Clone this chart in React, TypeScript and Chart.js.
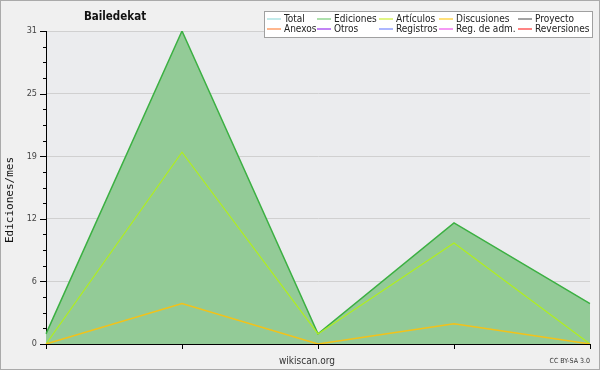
import React, { useEffect, useRef } from "react";
import { Chart, registerables } from "chart.js";

Chart.register(...registerables);

const periods = ["1", "2", "3", "4", "5"];
const ediciones = [1, 31, 1, 12, 4];
const articulos = [0, 19, 1, 10, 0];
const discusiones = [0, 4, 0, 2, 0];
const yMajorTicks = [0, 6.2, 12.4, 18.6, 24.8, 31];

const legendRow1 = ["Total", "Ediciones", "Artículos", "Discusiones", "Proyecto"];
const legendRow2 = ["Anexos", "Otros", "Registros", "Reg. de adm.", "Reversiones"];
const legendColors1 = ["#99dddd", "#77cc77", "#ccee33", "#ffcc22", "#666666"];
const legendColors2 = ["#ff8844", "#9933ee", "#7788ff", "#ee55ee", "#ff3333"];

const titleText = "Bailedekat";
const yTitle = "Ediciones/mes";
const xTitle = "wikiscan.org";
const licenseText = "CC BY-SA 3.0";

const COND = '"DejaVu Sans Condensed", "DejaVu Sans", sans-serif';

const decorPlugin = {
  id: "decor",
  beforeDraw(chart: any) {
    const { ctx, width, height, chartArea } = chart;
    ctx.save();
    ctx.fillStyle = "#f0f0f0";
    ctx.fillRect(0, 0, width, height);
    ctx.strokeStyle = "#aaaaaa";
    ctx.lineWidth = 1;
    ctx.strokeRect(0.5, 0.5, width - 1, height - 1);
    ctx.fillStyle = "#ebecee";
    ctx.fillRect(chartArea.left, chartArea.top, chartArea.right - chartArea.left, chartArea.bottom - chartArea.top);
    ctx.restore();
  },
  afterDraw(chart: any) {
    const { ctx, chartArea } = chart;
    const y = chart.scales.y;
    const x = chart.scales.x;
    ctx.save();
    // y ticks
    ctx.strokeStyle = "#000";
    ctx.lineWidth = 1;
    ctx.beginPath();
    for (let i = 0; i < yMajorTicks.length; i++) {
      const v = yMajorTicks[i];
      const py = Math.round(y.getPixelForValue(v)) + 0.5;
      ctx.moveTo(chartArea.left - 6, py);
      ctx.lineTo(chartArea.left, py);
      if (i < yMajorTicks.length - 1) {
        const step = (yMajorTicks[i + 1] - v) / 4;
        for (let k = 1; k < 4; k++) {
          const my = Math.round(y.getPixelForValue(v + step * k)) + 0.5;
          ctx.moveTo(chartArea.left - 3, my);
          ctx.lineTo(chartArea.left, my);
        }
      }
    }
    // x ticks
    for (let i = 0; i < periods.length; i++) {
      const px = Math.round(x.getPixelForValue(i)) + 0.5;
      ctx.moveTo(px, chartArea.bottom);
      ctx.lineTo(px, chartArea.bottom + 5);
    }
    ctx.stroke();

    // title
    ctx.fillStyle = "#111";
    ctx.font = `bold 11.5px ${COND}`;
    ctx.textAlign = "center";
    ctx.textBaseline = "middle";
    ctx.fillText(titleText, 115, 17);

    // x title
    ctx.fillStyle = "#333";
    ctx.font = `10px ${COND}`;
    ctx.fillText(xTitle, 307, 361);

    // license
    ctx.font = `7px ${COND}`;
    ctx.textAlign = "right";
    ctx.fillText(licenseText, 590, 361);

    // y title
    ctx.save();
    ctx.translate(10, 200);
    ctx.rotate(-Math.PI / 2);
    ctx.textAlign = "center";
    ctx.fillStyle = "#111";
    ctx.font = '11px "DejaVu Sans Mono", monospace';
    ctx.fillText(yTitle, 0, 0);
    ctx.restore();

    // legend
    ctx.fillStyle = "#ffffff";
    ctx.fillRect(264, 11, 329, 27);
    ctx.strokeStyle = "#a0a0a0";
    ctx.strokeRect(264.5, 11.5, 328, 26);
    const cols = [267, 317, 379, 439, 518];
    ctx.font = `10px ${COND}`;
    ctx.textAlign = "left";
    ctx.textBaseline = "middle";
    const rows = [
      { labels: legendRow1, colors: legendColors1, y: 19 },
      { labels: legendRow2, colors: legendColors2, y: 29 },
    ];
    for (const r of rows) {
      for (let i = 0; i < r.labels.length; i++) {
        const cx = cols[i];
        ctx.strokeStyle = r.colors[i];
        ctx.lineWidth = 1.2;
        ctx.beginPath();
        ctx.moveTo(cx, r.y);
        ctx.lineTo(cx + 14, r.y);
        ctx.stroke();
        ctx.fillStyle = "#222";
        ctx.fillText(r.labels[i], cx + 17, r.y + 0.5);
      }
    }
    ctx.restore();
  },
};

export default function App() {
  const ref = useRef<HTMLCanvasElement | null>(null);
  useEffect(() => {
    document.body.style.margin = "0";
    const canvas = ref.current;
    if (!canvas) return;
    const chart = new Chart(canvas, {
      type: "line",
      data: {
        labels: periods,
        datasets: [
          {
            label: "Discusiones",
            data: discusiones,
            borderColor: "#f2c21a",
            borderWidth: 1.5,
            pointRadius: 0,
            fill: false,
            tension: 0,
          },
          {
            label: "Artículos",
            data: articulos,
            borderColor: "#b0ee1e",
            borderWidth: 1.2,
            pointRadius: 0,
            fill: false,
            tension: 0,
          },
          {
            label: "Ediciones",
            data: ediciones,
            borderColor: "#3cb043",
            backgroundColor: "#93cb97",
            borderWidth: 1.5,
            pointRadius: 0,
            fill: "origin",
            tension: 0,
          },
        ],
      },
      options: {
        responsive: false,
        animation: false,
        devicePixelRatio: 1,
        layout: { padding: { top: 31, right: 10, bottom: 26, left: 0 } },
        plugins: {
          legend: { display: false },
          tooltip: { enabled: false },
          title: { display: false },
        },
        scales: {
          x: {
            type: "category",
            offset: false,
            grid: { display: false, drawTicks: false },
            border: { display: true, color: "#000", width: 1 },
            ticks: { display: false },
            afterFit(scale: any) {
              scale.height = 0;
            },
          },
          y: {
            min: 0,
            max: 31,
            afterBuildTicks(scale: any) {
              scale.ticks = yMajorTicks.map((v) => ({ value: v }));
            },
            afterFit(scale: any) {
              scale.width = 46;
            },
            grid: { color: "#d0d0d0", lineWidth: 1, drawTicks: false },
            border: { display: true, color: "#000", width: 1 },
            ticks: {
              padding: 9,
              color: "#444",
              font: { family: COND, size: 9 },
              callback: (v: any) => String(Math.round(Number(v))),
            },
          },
        },
      },
      plugins: [decorPlugin],
    });
    return () => chart.destroy();
  }, []);
  return (
    <div style={{ width: 600, height: 370 }}>
      <canvas ref={ref} width={600} height={370} style={{ display: "block" }} />
    </div>
  );
}
